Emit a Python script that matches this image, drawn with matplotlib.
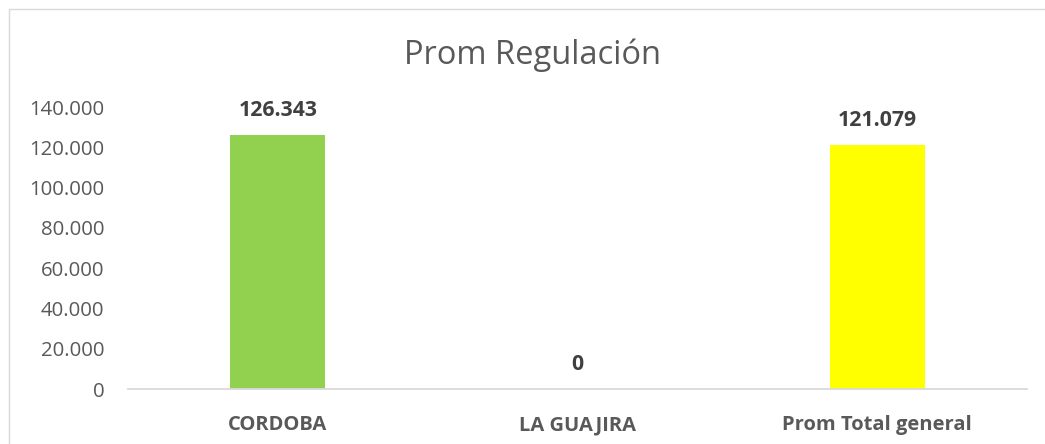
import matplotlib
matplotlib.use("Agg")
import matplotlib.pyplot as plt
from matplotlib.patches import Rectangle
from matplotlib.ticker import FuncFormatter, MultipleLocator

categories = ["CORDOBA", "LA GUAJIRA", "Prom Total general"]
values = [126343, 0, 121079]
bar_colors = ["#92D050", "#92D050", "#FFFF00"]
title = "Prom Regulación"

plt.rcParams['font.family'] = ['Open Sans', 'DejaVu Sans']

W, H = 1045, 444
fig = plt.figure(figsize=(W / 100, H / 100), dpi=100)
fig.patch.set_facecolor("white")

# outer chart border
fig.patches.append(Rectangle((9 / W, -0.1), 1.2, 1 - 9 / H + 0.1, transform=fig.transFigure,
                             fill=False, edgecolor="#D9D9D9", linewidth=1.0))

ax = fig.add_axes([128 / W, 1 - 389 / H, (1027 - 128) / W, (389 - 107) / H])
x = list(range(len(categories)))
ax.bar(x, values, width=0.317, color=bar_colors)
ax.set_xlim(-0.5, len(categories) - 0.5)
ax.set_ylim(0, 140000)
ax.yaxis.set_major_locator(MultipleLocator(20000))
ax.yaxis.set_major_formatter(FuncFormatter(lambda v, p: f"{int(v):,}".replace(",", ".")))

for s in ["top", "right", "left"]:
    ax.spines[s].set_visible(False)
ax.spines["bottom"].set_color("#D9D9D9")
ax.spines["bottom"].set_linewidth(1.3)

ax.tick_params(axis="y", length=0, pad=17, labelsize=14.7, labelcolor="#595959")
ax.tick_params(axis="x", length=0, pad=19, labelsize=14.5, labelcolor="#595959")
ax.set_xticks(x)
ax.set_xticklabels(categories, fontweight="bold")

for xi, v in zip(x, values):
    ax.annotate(f"{v:,}".replace(",", "."), (xi, v), xytext=(0, 17.5), textcoords="offset points",
                ha="center", va="center", fontsize=15.3, fontweight="bold", color="#404040")

fig.text(532 / W, 1 - 55 / H, title, ha="center", va="center", fontsize=23.5, color="#595959")

fig.savefig("out.png", dpi=100)
